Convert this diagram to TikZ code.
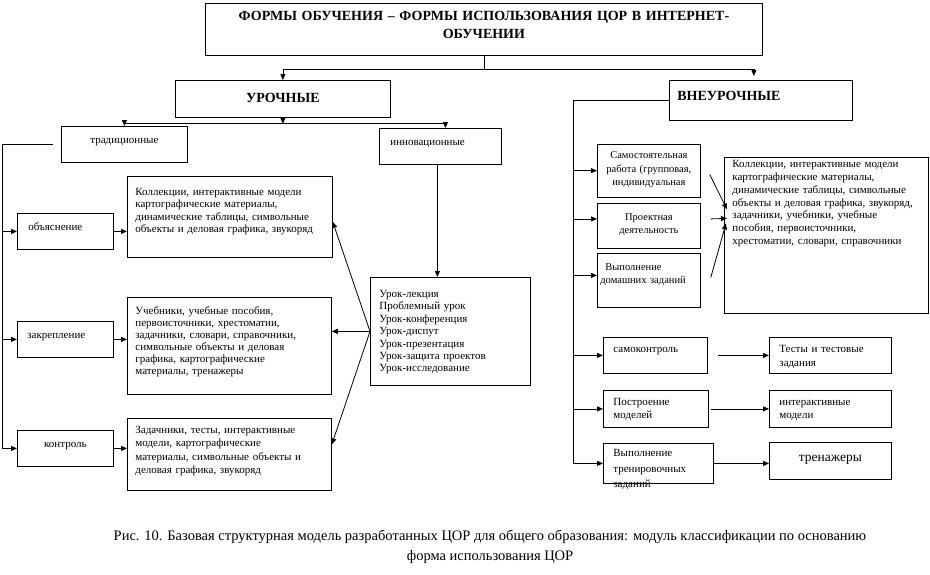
\documentclass[tikz,border=0pt]{standalone}
\usepackage{fontspec}
\setmainfont{Liberation Serif}
\usepackage{tikz}
\usetikzlibrary{arrows.meta, positioning, calc}

\newcommand{\headfont}{\fontsize{14}{18}\selectfont\bfseries}
\newcommand{\boxfont}{\fontsize{11}{12.4}\selectfont}
\newcommand{\smallfont}{\fontsize{10.5}{13.4}\selectfont}
\newcommand{\capfont}{\fontsize{14.5}{20}\selectfont}

\begin{document}
\begin{tikzpicture}[
    x=1pt, y=-1pt,
    line width=0.8pt,
    box/.style={
        rectangle,
        draw,
        anchor=north west,
        inner xsep=8pt,
        inner ysep=0pt,
        font=\boxfont
    },
    arrow/.style={-{Triangle[length=6pt, width=5pt]}}
]
\useasboundingbox (0,0) rectangle (930,574);

% header and the two branches
\node[box, font=\headfont, align=center, text width=541pt,
      text height=17pt, text depth=35pt] (title) at (205,3)
    {ФОРМЫ ОБУЧЕНИЯ – ФОРМЫ ИСПОЛЬЗОВАНИЯ ЦОР В ИНТЕРНЕТ-\\ОБУЧЕНИИ};

\node[box, font=\headfont, align=center, text width=199pt,
      text height=22pt, text depth=15pt] (uroch) at (175,80) {УРОЧНЫЕ};

\node[box, font=\headfont, align=left, text width=167pt,
      text height=20pt, text depth=20pt] (vneur) at (669,80) {ВНЕУРОЧНЫЕ};

% lessons: left column
\node[box, align=center, text width=110pt,
      text height=17.5pt, text depth=18.5pt] (trad) at (61,126) {традиционные};

\node[box, inner xsep=11pt, align=left, text width=100pt,
      text height=17.5pt, text depth=18.5pt] (innov) at (379,128) {инновационные};

\node[box, inner xsep=11pt, align=left, text width=74pt,
      text height=17.5pt, text depth=18.5pt] (obj) at (17,213) {объяснение};

\node[box, inner xsep=10pt, align=left, text width=76pt,
      text height=17.5pt, text depth=18.5pt] (zakr) at (17,321) {закрепление};

\node[box, align=center, text width=80pt,
      text height=17.5pt, text depth=18.5pt] (kontr) at (17,430) {контроль};

\node[box, align=left, text width=189pt,
      text height=19pt, text depth=62pt] (kol) at (127,176) {
    Коллекции, интерактивные модели\\
    картографические материалы,\\
    динамические таблицы, символьные\\
    объекты и деловая графика, звукоряд
};

\node[box, align=left, text width=188pt, font={\fontsize{11}{12}\selectfont},
      text height=17pt, text depth=80pt] (ucheb) at (127,297) {
    Учебники, учебные пособия,\\
    первоисточники, хрестоматии,\\
    задачники, словари, справочники,\\
    символьные объекты и деловая\\
    графика, картографические\\
    материалы, тренажеры
};

\node[box, align=left, text width=188pt, font={\fontsize{11}{13.5}\selectfont},
      text height=15pt, text depth=57pt] (zadach) at (127,418) {
    Задачники, тесты, интерактивные\\
    модели, картографические\\
    материалы, символьные объекты и\\
    деловая графика, звукоряд
};

\node[box, inner xsep=9pt, align=left, text width=142pt,
      text height=20pt, text depth=88pt] (urok) at (370,277) {
    Урок-лекция\\
    Проблемный урок\\
    Урок-конференция\\
    Урок-диспут\\
    Урок-презентация\\
    Урок-защита проектов\\
    Урок-исследование
};

% out-of-class work: right column
\node[box, font=\smallfont, inner xsep=4pt, align=center, text width=95pt,
      text height=14.5pt, text depth=38pt] (sam) at (597,144) {
    Самостоятельная\\
    работа (групповая,\\
    индивидуальная
};

\node[box, font=\smallfont, inner xsep=4pt, align=center, text width=95pt,
      text height=17pt, text depth=28pt] (proekt) at (597,203) {
    Проектная\\
    деятельность
};

\node[box, font=\smallfont, inner xsep=3pt, align=left, text width=97pt,
      text height=17pt, text depth=37pt] (domash) at (597,253) {
    \hspace*{5pt}Выполнение\\
    домашних заданий
};

\node[box, align=left, text width=188pt, font={\fontsize{11}{12.7}\selectfont},
      text height=10.5pt, text depth=145.5pt] (big) at (724,157) {
    Коллекции, интерактивные модели\\
    картографические материалы,\\
    динамические таблицы, символьные\\
    объекты и деловая графика, звукоряд,\\
    задачники, учебники, учебные\\
    пособия, первоисточники,\\
    хрестоматии,  словари, справочники
};

\node[box, font={\fontsize{11}{13.4}\selectfont}, inner xsep=10pt, align=left,
      text width=84pt, text height=15.5pt, text depth=20.5pt] (samok) at (603,337) {самоконтроль};

\node[box, font={\fontsize{11}{14}\selectfont}, inner xsep=10pt, align=left,
      text width=102pt, text height=15.5pt, text depth=20.5pt] (tests) at (769,337) {
    Тесты и тестовые\\
    задания
};

\node[box, font={\fontsize{11}{13.4}\selectfont}, inner xsep=10pt, align=left,
      text width=85pt, text height=15pt, text depth=22pt] (postr) at (603,390) {
    Построение\\
    моделей
};

\node[box, font={\fontsize{11}{13.4}\selectfont}, inner xsep=10pt, align=left,
      text width=102pt, text height=15pt, text depth=22pt] (intmod) at (769,390) {
    интерактивные\\
    модели
};

\node[box, font={\fontsize{11}{15.5}\selectfont}, inner xsep=10pt, align=left,
      text width=90pt, text height=13.5pt, text depth=26.5pt] (trenir) at (603,443) {
    Выполнение\\
    тренировочных\\
    заданий
};

\node[box, font={\fontsize{13.5}{16}\selectfont}, align=center, text width=106pt,
      text height=19pt, text depth=18pt] (tren) at (769,442) {тренажеры};

% caption
\node[font=\capfont, align=center] (caption) at (490,547) {
    Рис. 10. Базовая структурная модель разработанных ЦОР для общего образования: модуль классификации по основанию\\
    форма использования ЦОР
};

% connectors from the header
\coordinate (split) at ($(title.south)+(0,14)$);
\draw (title.south) -- (split);
\draw[arrow] (split) -| (uroch.north);
\draw[arrow] (split) -| ([xshift=-7pt, yshift=4pt]vneur.north);

\coordinate (usplit) at ($(uroch.south)+(0,6)$);
\draw[arrow] (uroch.south) -- (usplit);
\draw[arrow] (usplit) -| (trad.north);
\draw[arrow] (usplit) -| ([xshift=5pt]innov.north);

% left bus
\coordinate (lbus) at ($(trad.west)+(-59,0)$);
\draw[arrow] ([xshift=-8pt]trad.west) -- (lbus) |- (kontr.west);
\draw[arrow] (lbus |- obj.west) -- (obj.west);
\draw[arrow] (lbus |- zakr.west) -- (zakr.west);

\draw[arrow] (obj.east) -- (obj.east -| kol.west);
\draw[arrow] (zakr.east) -- (zakr.east -| ucheb.west);
\draw[arrow] (kontr.east) -- (kontr.east -| zadach.west);

\draw[arrow] ([xshift=-3pt]innov.south) -- ([xshift=-3pt]innov.south |- urok.north);
\draw[arrow] (urok.west) -- ([yshift=-5pt]kol.east);
\draw[arrow] (urok.west) -- (urok.west -| ucheb.east);
\draw[arrow] (urok.west) -- ([yshift=10pt]zadach.east);

% right bus
\coordinate (rbus) at ($(vneur.west)+(-96,0)$);
\draw[arrow] (vneur.west) -- (rbus) |- (trenir.west);
\draw[arrow] (rbus |- sam.west) -- (sam.west);
\draw[arrow] ($(rbus |- proekt.west)+(0,-7)$) -- ([yshift=7pt]proekt.west);
\draw[arrow] ($(rbus |- domash.west)+(0,-5)$) -- ([yshift=5pt]domash.west);
\draw[arrow] (rbus |- samok.west) -- (samok.west);
\draw[arrow] (rbus |- postr.west) -- (postr.west);

\draw[arrow] ([xshift=9pt, yshift=-4pt]sam.east) -- ([xshift=3pt, yshift=26pt]big.west);
\draw[arrow] ([xshift=10pt, yshift=7pt]proekt.east) -- ([xshift=3pt, yshift=17pt]big.west);
\draw[arrow] ([xshift=10pt, yshift=3pt]domash.east) -- ([xshift=2pt, yshift=12pt]big.west);

\draw[arrow] ([xshift=10pt]samok.east) -- (samok.east -| tests.west);
\draw[arrow] ([xshift=2pt]postr.east) -- (postr.east -| intmod.west);
\draw[arrow] (trenir.east) -- (trenir.east -| tren.west);

\end{tikzpicture}
\end{document}
